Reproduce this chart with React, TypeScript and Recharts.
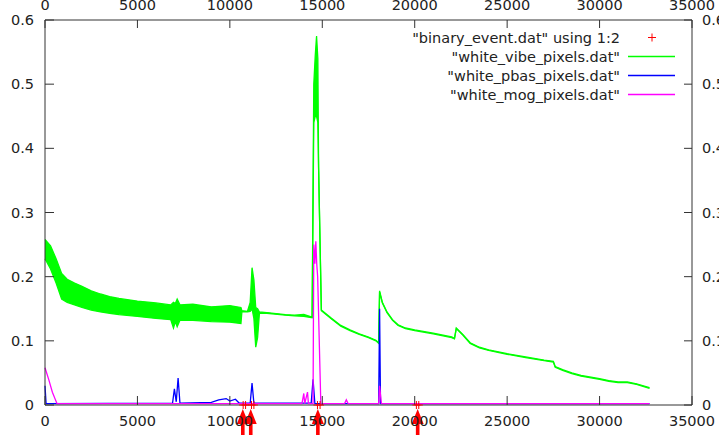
import React from 'react';
import { ComposedChart, Area, Line, Scatter, XAxis, YAxis } from 'recharts';

const xTicks = [0, 5000, 10000, 15000, 20000, 25000, 30000, 35000];
const yTicks = [0, 0.1, 0.2, 0.3, 0.4, 0.5, 0.6];

const seriesNames = [
  '"binary_event.dat" using 1:2',
  '"white_vibe_pixels.dat"',
  '"white_pbas_pixels.dat"',
  '"white_mog_pixels.dat"',
];
const seriesColors = ['#ff0000', '#00ff00', '#0000ff', '#ff00ff'];

// binary events (start/end pairs) and the hand-drawn arrows under the axis
const eventX = [10720, 10850, 11170, 11300, 14740, 14880, 20090, 20220];
const arrowX = [10700, 11130, 14760, 20160];

// vibe: noisy band is drawn as [low, high] envelope
const vibeX = [
  0, 300, 600, 900, 1200, 1600, 2000, 2500, 3000, 3500,
  4000, 5000, 6000, 6800, 6950, 7050, 7150, 7300, 8000, 9000,
  10000, 10600, 10650, 10950, 11100, 11200, 11300, 11400, 11500, 11600,
  12000, 13000, 13500, 14000, 14450, 14540, 14620, 14690, 14760, 14800,
  14950, 15500, 16000, 16500, 17000, 17500, 17900, 18050, 18100, 18250,
  18500, 18800, 19100, 19500, 20000, 21000, 22000, 22150, 22250, 22600,
  23000, 23500, 24000, 25000, 26000, 27000, 27500, 27600, 28000, 28500,
  29000, 30000, 30500, 31000, 31500, 32000, 32700,
];
const vibeHigh = [
  0.258, 0.248, 0.228, 0.205, 0.196, 0.19, 0.185, 0.178, 0.173, 0.169,
  0.166, 0.162, 0.159, 0.156, 0.16, 0.158, 0.165, 0.156, 0.157, 0.153,
  0.155, 0.152, 0.147, 0.146, 0.16, 0.214, 0.195, 0.152, 0.15, 0.145,
  0.144, 0.141, 0.14, 0.141, 0.137, 0.5, 0.545, 0.575, 0.54, 0.37,
  0.148, 0.135, 0.124, 0.117, 0.111, 0.106, 0.101, 0.097, 0.178, 0.16,
  0.145, 0.133, 0.125, 0.12, 0.117, 0.112, 0.106, 0.104, 0.12, 0.11,
  0.097, 0.09, 0.086, 0.08, 0.075, 0.07, 0.068, 0.06, 0.055, 0.05,
  0.046, 0.041, 0.038, 0.036, 0.036, 0.033, 0.027,
];
const vibeLow = [
  0.228, 0.212, 0.19, 0.165, 0.16, 0.156, 0.152, 0.148, 0.145, 0.143,
  0.141, 0.138, 0.135, 0.133, 0.12, 0.13, 0.122, 0.132, 0.132, 0.13,
  0.129, 0.127, 0.145, 0.145, 0.146, 0.15, 0.135, 0.09, 0.105, 0.143,
  0.143, 0.14, 0.139, 0.138, 0.136, 0.44, 0.45, 0.45, 0.44, 0.37,
  0.147, 0.134, 0.123, 0.116, 0.11, 0.105, 0.1, 0.096, 0.176, 0.159,
  0.144, 0.132, 0.124, 0.119, 0.116, 0.111, 0.105, 0.103, 0.119, 0.109,
  0.096, 0.089, 0.085, 0.079, 0.074, 0.069, 0.067, 0.059, 0.054, 0.049,
  0.045, 0.04, 0.037, 0.035, 0.035, 0.032, 0.026,
];

const pbasX = [
  0, 60, 6900, 7000, 7100, 7200, 7300, 9000, 9400, 9800,
  10000, 10300, 10500, 11100, 11200, 11300, 14400, 14500, 14600, 18050,
  18100, 18150, 32700,
];
const pbasY = [
  0.03, 0.002, 0.003, 0.025, 0.005, 0.042, 0.003, 0.004, 0.008, 0.01,
  0.006, 0.009, 0.003, 0.003, 0.034, 0.003, 0.003, 0.04, 0.002, 0.002,
  0.15, 0.002, 0.002,
];

const mogX = [
  0, 200, 400, 650, 13900, 14000, 14050, 14200, 14250, 14500,
  14540, 14600, 14650, 14700, 14750, 14920, 16200, 16300, 16400, 18050,
  18100, 18200, 32700,
];
const mogY = [
  0.058, 0.04, 0.02, 0.002, 0.002, 0.018, 0.002, 0.02, 0.002, 0.002,
  0.25, 0.22, 0.255, 0.22, 0.2, 0.002, 0.002, 0.008, 0.002, 0.002,
  0.03, 0.002, 0.002,
];

const vibeData = vibeX.map((x, i) => ({ x, range: [vibeLow[i], vibeHigh[i]] }));
const pbasData = pbasX.map((x, i) => ({ x, y: pbasY[i] }));
const mogData = mogX.map((x, i) => ({ x, y: mogY[i] }));
const eventData = eventX.map((x) => ({ x, y: 0 }));
const arrowData = arrowX.map((x) => ({ x, y: 0 }));

const font = 'DejaVu Sans, sans-serif';
const axisColor = '#333';

// gnuplot look: tick marks flipped to point into the plot, frame axes without labels
const axisCss = `
.recharts-cartesian-axis-tick-value { fill: #222; font-family: 'DejaVu Sans', sans-serif; font-size: 14.5px; }
.recharts-cartesian-axis-tick-line { transform-box: fill-box; }
.ax-bottom .recharts-cartesian-axis-tick-line { transform-origin: center top; transform: scaleY(-1); }
.ax-left .recharts-cartesian-axis-tick-line { transform-origin: right center; transform: scaleX(-1); }
.ax-top .recharts-cartesian-axis-tick-line { transform-origin: center bottom; transform: scaleY(-1); }
.ax-right .recharts-cartesian-axis-tick-line { transform-origin: left center; transform: scaleX(-1); }
.ax-top .recharts-cartesian-axis-tick-value, .ax-right .recharts-cartesian-axis-tick-value { display: none; }
`;

const PlusShape = ({ cx, cy }: any) => (
  <g stroke="#ff0000" strokeWidth={1}>
    <line x1={cx - 4} x2={cx + 4} y1={cy} y2={cy} />
    <line x1={cx} x2={cx} y1={cy - 4} y2={cy + 4} />
  </g>
);

const ArrowShape = ({ cx, cy }: any) => (
  <g fill="#ff0000">
    <polygon points={`${cx},${cy + 4} ${cx - 6},${cy + 19} ${cx + 6},${cy + 19}`} />
    <rect x={cx - 1.8} y={cy + 16} width={3.6} height={16} />
  </g>
);

const LegendOverlay = () => (
  <div style={{ position: 'absolute', left: 330, top: 28, width: 345, fontFamily: font, fontSize: 14.5, color: '#222' }}>
    {seriesNames.map((name, i) => (
      <div key={name} style={{ display: 'flex', alignItems: 'center', height: 19 }}>
        <span style={{ flex: 1, textAlign: 'right', whiteSpace: 'nowrap' }}>{name}</span>
        <svg width={47} height={19} style={{ marginLeft: 8 }}>
          {i === 0 ? (
            <g stroke={seriesColors[0]} strokeWidth={1}>
              <line x1={20} x2={28} y1={9.5} y2={9.5} />
              <line x1={24} x2={24} y1={5.5} y2={13.5} />
            </g>
          ) : (
            <line x1={0} x2={47} y1={9.5} y2={9.5} stroke={seriesColors[i]} strokeWidth={1.3} />
          )}
        </svg>
      </div>
    ))}
  </div>
);

const App: React.FC = () => {
  return (
    <div
      style={{
        position: 'absolute', left: 0, top: 0, width: 719, height: 435,
        background: '#fff', fontFamily: font, fontSize: 14.5,
      }}
    >
      <style>{axisCss}</style>
      <ComposedChart width={719} height={435} margin={{ top: 10, right: 17, bottom: 0, left: 5 }}>
        <XAxis
          className="ax-bottom"
          dataKey="x"
          type="number"
          domain={[0, 35000]}
          ticks={xTicks}
          stroke={axisColor}
          tickSize={9}
        />
        <XAxis
          className="ax-top"
          xAxisId="top"
          dataKey="x"
          orientation="top"
          type="number"
          domain={[0, 35000]}
          ticks={xTicks}
          height={10}
          stroke={axisColor}
          tickSize={8}
        />
        <YAxis
          className="ax-left"
          type="number"
          domain={[0, 0.6]}
          ticks={yTicks}
          width={40}
          stroke={axisColor}
          tickSize={9}
        />
        <YAxis
          className="ax-right"
          yAxisId="right"
          orientation="right"
          type="number"
          domain={[0, 0.6]}
          ticks={yTicks}
          width={10}
          stroke={axisColor}
          tickSize={8}
        />
        {/* invisible helper so the mirrored frame axes get a scale */}
        <Line
          xAxisId="top"
          yAxisId="right"
          data={eventData}
          dataKey="y"
          stroke="none"
          dot={false}
          activeDot={false}
          legendType="none"
          isAnimationActive={false}
        />
        <Area
          data={vibeData}
          dataKey="range"
          type="linear"
          stroke={seriesColors[1]}
          strokeWidth={1.3}
          fill={seriesColors[1]}
          fillOpacity={1}
          dot={false}
          activeDot={false}
          isAnimationActive={false}
        />
        <Line
          data={pbasData}
          dataKey="y"
          type="linear"
          stroke={seriesColors[2]}
          strokeWidth={1.3}
          dot={false}
          activeDot={false}
          isAnimationActive={false}
        />
        <Line
          data={mogData}
          dataKey="y"
          type="linear"
          stroke={seriesColors[3]}
          strokeWidth={1.3}
          dot={false}
          activeDot={false}
          isAnimationActive={false}
        />
        <Scatter data={eventData} dataKey="y" shape={<PlusShape />} isAnimationActive={false} />
        <Scatter data={arrowData} dataKey="y" shape={<ArrowShape />} isAnimationActive={false} />
      </ComposedChart>
      <LegendOverlay />
    </div>
  );
};

export default App;
